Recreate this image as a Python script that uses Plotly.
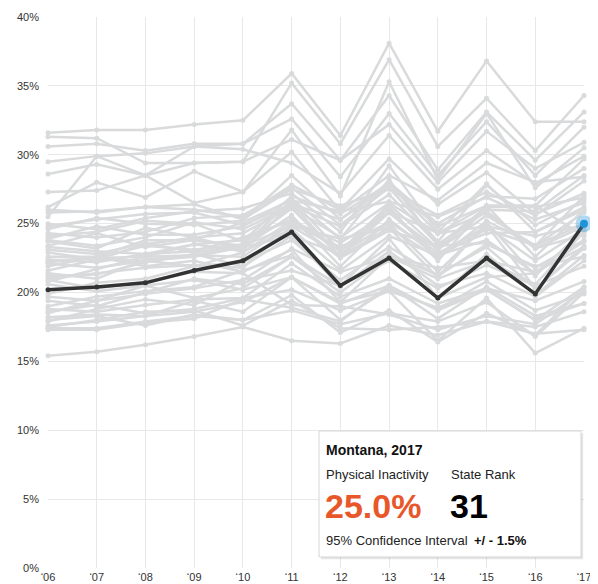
import plotly.graph_objects as go

years = [2006, 2007, 2008, 2009, 2010, 2011, 2012, 2013, 2014, 2015, 2016, 2017]
year_labels = ["‘06", "‘07", "‘08", "‘09", "‘10", "‘11", "‘12", "‘13", "‘14", "‘15", "‘16", "‘17"]
y_ticks = [0, 5, 10, 15, 20, 25, 30, 35, 40]
y_tick_labels = ["0%", "5%", "10%", "15%", "20%", "25%", "30%", "35%", "40%"]

highlight_state = "Montana"
highlight_year = 2017
montana_values = [20.2, 20.4, 20.7, 21.6, 22.3, 24.4, 20.5, 22.5, 19.6, 22.5, 19.9, 25.0]
montana_rank = 31
montana_ci = 1.5

other_state_names = [
    "Mississippi", "Kentucky", "Arkansas", "Louisiana", "Alabama", "Oklahoma", "West Virginia",
    "Tennessee", "Texas", "Georgia", "South Carolina", "Indiana", "Missouri", "North Carolina",
    "Ohio", "Nevada", "New Mexico", "District of Columbia", "New Jersey", "New York",
    "Pennsylvania", "Illinois", "Michigan", "Florida", "Kansas", "Iowa", "Rhode Island",
    "Arizona", "Delaware", "North Dakota", "South Dakota", "Nebraska", "Maryland", "Hawaii",
    "Virginia", "Connecticut", "Wisconsin", "Maine", "New Hampshire", "Massachusetts",
    "Alaska", "Wyoming", "Idaho", "Minnesota", "Vermont", "Washington", "Oregon", "Utah",
    "Colorado", "California",
]
other_state_values = [
    [31.6, 31.8, 31.8, 32.2, 32.5, 35.9, 31.4, 38.1, 31.7, 36.8, 32.4, 32.4],
    [31.3, 31.2, 29.4, 29.4, 29.5, 35.2, 30.8, 36.9, 30.6, 34.1, 30.3, 34.3],
    [30.6, 30.8, 30.3, 30.8, 30.8, 33.7, 29.6, 34.3, 28.9, 33.1, 29.6, 33.1],
    [29.5, 29.9, 30.1, 30.6, 30.8, 32.6, 28.4, 33.0, 28.5, 32.4, 28.5, 32.0],
    [28.6, 29.3, 28.5, 29.4, 29.5, 31.1, 29.6, 32.2, 28.0, 31.7, 29.0, 30.9],
    [27.3, 27.4, 28.5, 30.6, 30.4, 29.4, 27.2, 31.4, 27.5, 30.3, 27.9, 29.9],
    [26.2, 28.0, 26.9, 28.8, 27.3, 31.8, 27.0, 35.3, 28.2, 33.0, 27.6, 30.5],
    [25.5, 29.9, 28.5, 26.5, 27.3, 30.2, 25.9, 28.5, 26.7, 29.4, 28.0, 28.4],
    [26.0, 25.8, 26.2, 26.0, 25.5, 27.8, 26.0, 29.7, 26.4, 28.7, 25.7, 27.2],
    [25.0, 24.6, 25.4, 25.9, 26.1, 27.2, 24.4, 29.2, 24.4, 27.9, 24.4, 26.2],
    [24.6, 25.4, 25.0, 24.9, 25.2, 28.5, 25.3, 28.0, 25.0, 27.0, 26.8, 29.0],
    [24.3, 24.0, 24.4, 25.4, 25.6, 27.6, 24.9, 27.6, 23.7, 27.8, 24.9, 26.7],
    [23.9, 24.8, 24.2, 24.2, 24.8, 26.8, 23.9, 28.2, 23.4, 26.2, 26.2, 26.9],
    [23.7, 23.2, 24.7, 24.0, 24.3, 26.2, 24.0, 26.5, 24.3, 25.8, 23.2, 24.8],
    [23.4, 24.3, 23.3, 23.8, 25.1, 26.7, 25.9, 26.6, 25.5, 26.9, 25.3, 26.5],
    [23.1, 22.8, 23.6, 22.9, 23.4, 24.8, 22.7, 26.2, 22.3, 26.3, 22.6, 26.0],
    [22.9, 22.4, 23.5, 24.0, 23.1, 26.4, 22.6, 25.8, 22.8, 24.8, 24.1, 24.9],
    [22.6, 22.6, 21.9, 22.3, 21.5, 23.1, 19.3, 22.6, 19.6, 21.1, 21.4, 23.7],
    [25.8, 25.9, 26.2, 26.4, 25.3, 27.5, 26.3, 27.5, 25.6, 27.3, 25.6, 28.1],
    [24.8, 25.3, 25.7, 25.8, 24.9, 26.4, 25.3, 27.7, 24.8, 26.3, 26.3, 24.1],
    [23.8, 23.4, 24.0, 25.1, 24.6, 26.3, 24.8, 27.1, 23.5, 25.9, 23.2, 24.2],
    [23.3, 23.0, 22.8, 23.5, 23.8, 25.3, 23.0, 25.9, 24.3, 24.8, 22.3, 24.6],
    [22.4, 22.2, 22.8, 23.0, 24.0, 25.2, 23.6, 25.8, 23.1, 25.6, 23.4, 25.8],
    [24.1, 24.4, 25.2, 25.0, 23.7, 27.0, 25.7, 27.9, 24.3, 26.3, 26.3, 29.7],
    [22.3, 22.5, 23.4, 23.1, 23.5, 26.1, 22.6, 24.7, 22.5, 25.2, 23.4, 25.0],
    [22.1, 21.8, 22.3, 21.9, 22.9, 25.2, 22.5, 24.5, 23.4, 23.6, 21.8, 23.8],
    [22.2, 22.5, 22.6, 22.7, 22.6, 25.0, 23.3, 25.1, 22.9, 24.3, 24.4, 26.0],
    [21.2, 21.3, 22.2, 22.8, 21.9, 24.1, 20.4, 22.7, 21.3, 23.3, 20.3, 23.4],
    [21.9, 22.6, 23.8, 23.8, 23.4, 26.7, 23.0, 26.4, 23.2, 26.0, 25.9, 28.5],
    [21.6, 22.4, 22.3, 22.6, 23.3, 25.6, 21.9, 25.3, 22.6, 24.6, 23.4, 27.0],
    [21.0, 21.4, 21.8, 22.0, 21.8, 24.8, 23.9, 24.7, 21.1, 25.1, 21.2, 24.6],
    [21.4, 21.0, 22.4, 22.7, 23.3, 24.1, 22.8, 25.0, 21.5, 24.9, 20.3, 23.2],
    [20.8, 21.7, 22.6, 23.5, 23.0, 24.6, 21.6, 24.1, 22.7, 23.8, 21.4, 24.4],
    [20.6, 20.1, 20.5, 20.9, 20.2, 21.1, 19.2, 20.5, 18.7, 20.2, 18.0, 20.4],
    [19.9, 20.7, 21.0, 21.9, 22.2, 23.8, 20.9, 23.3, 21.2, 23.5, 21.9, 22.6],
    [19.7, 19.4, 19.9, 20.3, 20.9, 23.2, 21.5, 22.6, 21.8, 22.3, 21.5, 23.3],
    [19.4, 19.0, 20.0, 21.0, 20.6, 22.6, 20.5, 23.9, 19.6, 22.8, 19.8, 22.7],
    [19.0, 19.7, 20.1, 20.4, 21.6, 22.7, 20.4, 23.0, 20.5, 21.4, 19.7, 22.3],
    [18.8, 18.6, 19.1, 19.5, 19.6, 22.1, 19.7, 21.0, 19.2, 20.3, 19.4, 20.8],
    [18.5, 19.4, 20.5, 19.6, 20.3, 22.6, 20.0, 22.6, 21.0, 22.3, 20.6, 24.4],
    [18.2, 18.4, 18.3, 19.4, 18.6, 21.1, 19.3, 20.1, 18.9, 20.2, 18.0, 19.2],
    [17.9, 18.8, 19.5, 19.1, 20.9, 21.6, 20.5, 22.3, 20.3, 22.0, 20.5, 21.9],
    [17.6, 17.9, 18.3, 18.6, 19.3, 21.1, 18.0, 20.3, 18.8, 20.8, 18.7, 19.9],
    [17.4, 17.4, 17.9, 18.3, 18.0, 18.7, 17.7, 18.5, 17.9, 19.3, 16.8, 20.0],
    [17.3, 17.3, 17.8, 18.1, 19.5, 18.9, 17.9, 20.5, 18.1, 20.4, 18.3, 19.2],
    [17.5, 18.0, 18.6, 18.7, 17.6, 19.4, 17.4, 17.3, 17.5, 17.9, 17.5, 18.6],
    [18.0, 18.3, 17.6, 18.4, 18.0, 19.8, 17.1, 18.7, 16.4, 18.5, 16.9, 20.4],
    [18.6, 19.1, 18.5, 18.8, 19.6, 20.2, 18.7, 20.1, 16.5, 19.6, 15.6, 17.4],
    [15.4, 15.7, 16.2, 16.8, 17.5, 16.5, 16.3, 17.6, 16.9, 17.9, 17.0, 17.3],
    [20.9, 20.3, 20.8, 21.5, 21.4, 19.1, 19.0, 18.4, 17.3, 18.3, 17.7, 20.1],
]

GREY = "#d9dadb"
DARK = "#333333"
ORANGE = "#e8572a"
BLUE = "#1f93d8"
FONT = "Liberation Sans, Arial, sans-serif"

fig = go.Figure()

for name, vals in zip(other_state_names, other_state_values):
    fig.add_trace(go.Scatter(
        x=years, y=vals, mode="lines+markers", name=name,
        line=dict(color=GREY, width=2.5),
        marker=dict(color=GREY, size=5),
        cliponaxis=False, showlegend=False, hoverinfo="skip",
    ))

fig.add_trace(go.Scatter(
    x=years, y=montana_values, mode="lines+markers", name=highlight_state,
    line=dict(color=DARK, width=3.5),
    marker=dict(color=DARK, size=5),
    cliponaxis=False, showlegend=False, hoverinfo="skip",
))

hl_idx = years.index(highlight_year)
fig.add_trace(go.Scatter(
    x=[years[hl_idx]], y=[montana_values[hl_idx]], mode="markers",
    marker=dict(color="rgba(31,147,216,0.35)", size=17),
    cliponaxis=False, showlegend=False, hoverinfo="skip",
))
fig.add_trace(go.Scatter(
    x=[years[hl_idx]], y=[montana_values[hl_idx]], mode="markers",
    marker=dict(color=BLUE, size=8),
    cliponaxis=False, showlegend=False, hoverinfo="skip",
))

# tooltip box (paper coordinates)
bx0, bx1, by0, by1 = 0.5056, 0.9944, 0.0200, 0.2486
fig.add_shape(type="rect", xref="paper", yref="paper",
              x0=bx0 + 0.004, x1=bx1 + 0.004, y0=by0 - 0.004, y1=by1 - 0.004,
              line=dict(width=0), fillcolor="rgba(0,0,0,0.10)", layer="above")
fig.add_shape(type="rect", xref="paper", yref="paper",
              x0=bx0, x1=bx1, y0=by0, y1=by1,
              line=dict(color="#d6d6d6", width=1), fillcolor="white", layer="above")

tx = 0.5149
rx = 0.748
ann = [
    dict(x=tx, y=0.2142, text=f"<b>{highlight_state}, {highlight_year}</b>", font=dict(size=14, color="#111")),
    dict(x=tx, y=0.1688, text="Physical Inactivity", font=dict(size=13, color="#222")),
    dict(x=rx, y=0.1688, text="State Rank", font=dict(size=13, color="#222")),
    dict(x=tx - 0.002, y=0.1125, text=f"<b>{montana_values[hl_idx]:.1f}%</b>", font=dict(size=34, color=ORANGE)),
    dict(x=rx - 0.002, y=0.1125, text=f"<b>{montana_rank}</b>", font=dict(size=34, color="#000")),
    dict(x=tx, y=0.0508, text="95% Confidence Interval", font=dict(size=13, color="#222")),
    dict(x=0.791, y=0.0508, text=f"<b>+/ - {montana_ci:.1f}%</b>", font=dict(size=13, color="#111")),
]
for a in ann:
    fig.add_annotation(xref="paper", yref="paper", xanchor="left", yanchor="middle",
                       showarrow=False, x=a["x"], y=a["y"], text=a["text"],
                       font=dict(family=FONT, size=a["font"]["size"], color=a["font"]["color"]))

# the page body adds an 8px margin, so the figure is sized/offset to compensate
fig.update_layout(
    width=590, height=576,
    margin=dict(l=40, r=14, t=9, b=16),
    paper_bgcolor="white", plot_bgcolor="white",
    font=dict(family=FONT, size=11, color="#333"),
    hovermode=False,
    xaxis=dict(range=[2006, 2017], tickmode="array", tickvals=years, ticktext=year_labels,
               showgrid=True, gridcolor="#e8e8e8", gridwidth=1, zeroline=False,
               showline=False, ticks="", ticklabelstandoff=1, automargin=False,
               tickfont=dict(size=11, color="#333")),
    yaxis=dict(range=[0, 40], tickmode="array", tickvals=y_ticks, ticktext=y_tick_labels,
               showgrid=True, gridcolor="#e8e8e8", gridwidth=1, zeroline=False,
               showline=False, ticks="", ticklabelstandoff=8, automargin=False,
               tickfont=dict(size=11, color="#333")),
)

fig.write_html("out.html")
